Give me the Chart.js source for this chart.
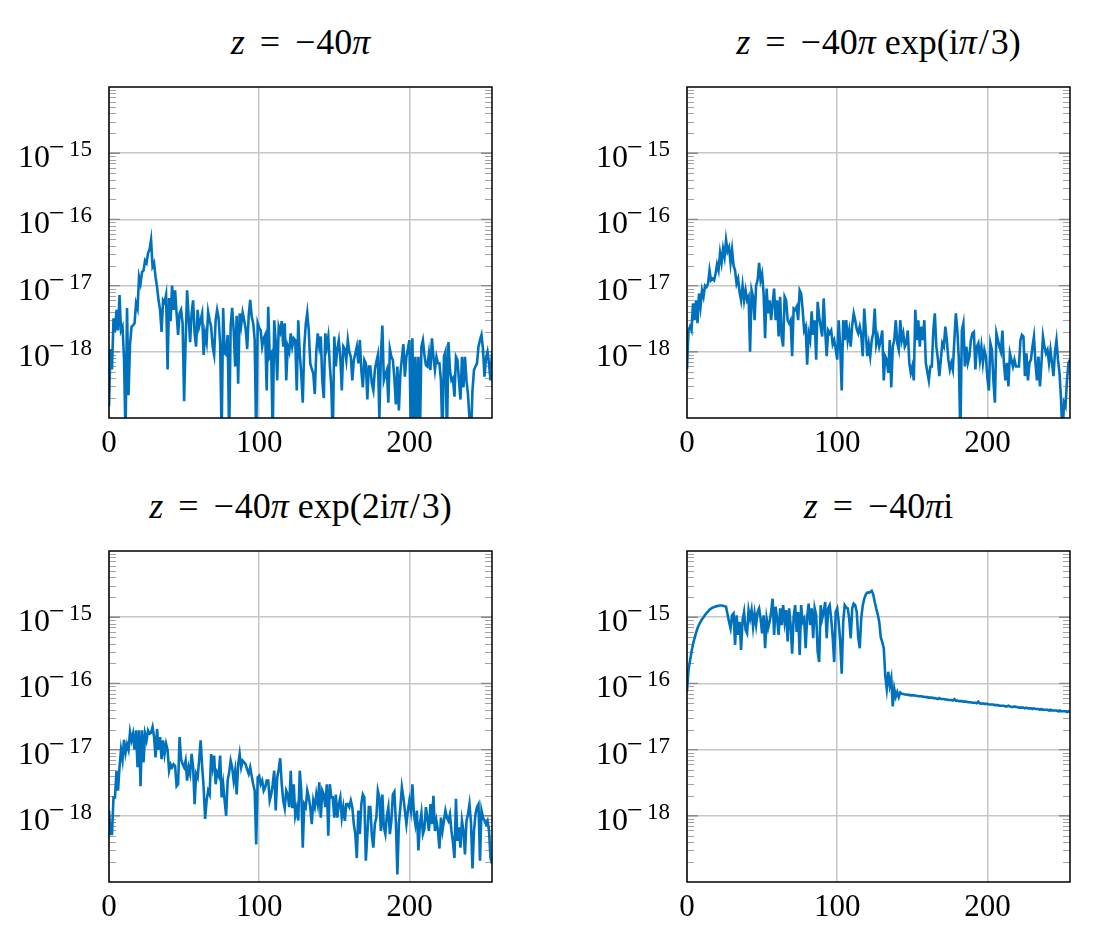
<!DOCTYPE html>
<html>
<head>
<meta charset="utf-8">
<script src="https://cdn.jsdelivr.net/npm/chart.js@4"></script>
<style>
  html, body { margin: 0; padding: 0; background: #fff; overflow: hidden; }
  body { width: 1093px; height: 936px; position: relative; }
  canvas { position: absolute; }
  .ttl { position: absolute; width: 383px; text-align: center; font-family: "Liberation Serif", serif; font-size: 36px; line-height: 36px; color: #000; white-space: nowrap; }
  .ttl i { font-style: italic; }
  .ttl .rel { padding: 0 15px; }
  .ttl .un { padding: 0 1px 0 0; }
  .ttl .sl { padding: 0 2px; }
</style>
</head>
<body>
<script>
// ---- data ----
const xTicks = [0, 100, 200];
const yDecades = [1e-18, 1e-17, 1e-16, 1e-15];
const yExponents = ['−18', '−17', '−16', '−15'];
const minorMultipliers = [2, 3, 4, 5, 6, 7, 8, 9];

const titleA = '<i>z</i><span class="rel">=</span><span class="un">−</span>40<i>π</i>';
const titleB = '<i>z</i><span class="rel">=</span><span class="un">−</span>40<i>π</i> exp(i<i>π</i><span class="sl">/</span>3)';
const titleC = '<i>z</i><span class="rel">=</span><span class="un">−</span>40<i>π</i> exp(2i<i>π</i><span class="sl">/</span>3)';
const titleD = '<i>z</i><span class="rel">=</span><span class="un">−</span>40<i>π</i>i';

const seriesA = [
1.5e-19,1.1e-18,5.4e-19,3.2e-18,2.0e-18,4.3e-18,2.1e-18,7.2e-18,2.1e-18,2.4e-18,8e-19,5e-20,4.6e-18,2.2e-19,1.3e-18,2.4e-18,
2.5e-18,2.7e-18,5.4e-18,4.5e-18,1.35e-17,1.07e-17,1.6e-17,1.7e-17,2.4e-17,2.2e-17,3.1e-17,3.5e-17,4.9e-17,1.95e-17,2.2e-17,1.35e-17,
9.5e-18,6e-18,4.3e-18,2.0e-18,6e-18,5.5e-18,7.2e-18,5.4e-19,6.5e-18,2.9e-18,1.0e-17,4.3e-18,8.5e-18,3.8e-18,1.8e-18,3.8e-18,
4.3e-18,2.7e-18,1.8e-19,1.4e-18,8.5e-18,3.4e-18,1.4e-18,3.8e-18,6e-18,1.9e-18,1.2e-18,4.3e-18,2.4e-18,3.0e-18,3.8e-18,9e-19,
1.9e-18,1.4e-18,4.0e-18,3.0e-18,2.4e-18,1.2e-18,9e-19,3.0e-18,4.3e-18,3.2e-18,1.3e-18,5e-20,4.6e-18,9.5e-19,9e-19,1.8e-18,
5e-20,2.5e-18,4.6e-18,2.1e-18,6e-19,3.5e-18,3.3e-19,3.8e-18,2.5e-18,3.9e-18,3e-18,2.2e-18,1.1e-18,3.5e-18,6.1e-18,3.4e-18,
2.7e-18,1.5e-18,5e-20,2.7e-18,2.3e-18,2.1e-18,1.2e-18,1.6e-18,1.8e-18,2.6e-19,4.8e-18,8.4e-19,9.4e-19,5e-20,3e-18,1.4e-18,
3.7e-19,2.4e-18,2.0e-18,2.9e-18,1.2e-18,2.7e-18,3.7e-19,1.2e-18,1.0e-18,1.9e-18,1.2e-18,1.6e-18,1.5e-18,2.6e-19,3e-18,9.4e-19,
4.7e-19,1.7e-19,1.2e-18,2.6e-18,3.9e-18,2.1e-18,6.7e-19,5.5e-19,4.7e-19,2.3e-19,1.0e-18,1.9e-18,1.2e-18,1.7e-18,3.7e-19,2e-19,
1.9e-18,1.2e-18,1.7e-18,6.3e-19,3e-19,5e-20,1.7e-18,6e-19,1.1e-18,1.5e-18,8.4e-19,2.6e-19,1.2e-18,1.1e-18,7.5e-19,1.5e-18,
1.0e-18,8.4e-19,3.7e-19,7.5e-19,9.4e-19,1.2e-18,6.7e-19,1.5e-18,5.3e-19,2.9e-19,7.5e-19,6.7e-19,1.9e-19,6e-19,6e-19,3.3e-19,
2.6e-19,5.3e-19,7e-19,8.9e-19,1e-19,8.4e-19,2.5e-18,3.7e-19,4.5e-19,5.3e-19,1.7e-19,1.1e-18,8.4e-19,7.5e-19,4e-19,1.6e-19,
6e-19,1.3e-19,4.7e-19,8e-19,1.3e-18,4.2e-19,8.4e-19,1.1e-18,1.5e-18,5e-20,1.6e-18,5e-20,8.4e-19,1e-19,8.4e-19,5e-20,
1.2e-18,1.5e-18,9e-19,6.3e-19,6e-19,9.4e-19,5.3e-19,1.6e-18,8.4e-19,5.3e-19,8.4e-19,6.7e-19,6.7e-19,3.7e-19,5e-20,8.4e-19,
1e-18,5e-20,1.4e-18,5.3e-19,3.7e-19,4e-19,2.1e-19,8.4e-19,7.5e-19,3.7e-19,1.9e-19,8.4e-19,2.9e-19,8.4e-19,3.7e-19,2.3e-19,
1e-19,5e-20,2.6e-19,5.3e-19,6e-19,6.7e-19,1.2e-18,1.5e-18,1.8e-18,1.1e-18,4.2e-19,8e-19,1.0e-18,6.7e-19,3.7e-19,9.4e-19
];

const seriesB = [
5.4e-19,2.1e-18,2.4e-18,2.1e-18,5.4e-18,3e-18,6e-18,2.7e-18,7.6e-18,4.8e-18,8.5e-18,6.8e-18,1.0e-17,9.5e-18,1.07e-17,1.7e-17,
1.2e-17,1.27e-17,1.2e-17,1.5e-17,2.1e-17,1.7e-17,3.1e-17,2.2e-17,3.6e-17,2.7e-17,4.9e-17,3.3e-17,3.8e-17,2.2e-17,3.5e-17,2.0e-17,
1.7e-17,1.07e-17,1.27e-17,8e-18,6e-18,1.0e-17,6e-18,8.5e-18,6e-18,6.8e-18,1.0e-18,8.5e-18,6.8e-18,3e-18,1.0e-17,1.2e-17,
2.2e-17,1.2e-17,1.5e-17,7.6e-18,1.6e-18,9e-18,3.8e-18,6e-18,3e-18,5.4e-18,9e-18,3e-18,6e-18,1.7e-18,6.8e-18,1.7e-18,
1.2e-18,6.8e-18,6e-18,3e-18,2.7e-18,3e-18,8.6e-19,4.5e-18,4.3e-18,4.8e-18,3e-18,8.5e-18,7.6e-18,4.3e-18,2.1e-18,2.4e-18,
6.4e-19,1.9e-18,1.5e-18,4.1e-18,1.8e-18,3e-18,7.6e-19,5.7e-18,3.4e-18,2.4e-18,1.7e-18,6.4e-18,2.1e-18,8.6e-19,2.1e-18,1.9e-18,
2.1e-18,1.3e-18,1.5e-18,1.1e-18,7.6e-19,3e-18,1.2e-18,2.6e-19,3e-18,1.5e-18,3e-18,1.5e-18,2.1e-18,1.2e-18,2.5e-18,3.8e-18,
3e-18,2.2e-18,1.9e-18,2.4e-18,1.8e-18,8.6e-19,4.5e-18,2.1e-18,8.6e-19,1.3e-18,8.6e-19,1.5e-18,1.9e-18,4.5e-18,1.3e-18,1.7e-18,
1.2e-18,1.5e-18,2.1e-18,3.7e-19,8.5e-19,7.6e-19,4.8e-19,1.5e-18,2.9e-19,1.2e-18,1.5e-18,3e-18,1.35e-18,1.07e-18,3e-18,1.5e-18,
1.9e-18,1.2e-18,1.35e-18,2.1e-18,6.8e-19,4.8e-19,6e-19,3.7e-19,4.3e-18,1.5e-18,3e-18,1.2e-18,2.4e-18,1.5e-18,3e-18,6.8e-19,
5e-19,3.7e-19,6e-19,6e-19,2.1e-18,3.8e-18,1.2e-18,8e-19,4.3e-19,7.6e-19,1.35e-18,1.2e-18,2.4e-18,1.5e-18,7.6e-19,5.4e-19,
6.8e-19,5.4e-19,1.5e-18,3.8e-18,2.1e-18,7.6e-19,5e-20,2.1e-18,2.7e-18,6e-19,1.2e-18,6.8e-19,8.5e-19,1.5e-18,1.9e-18,2.0e-18,
5.4e-19,1.2e-18,1.35e-18,7.6e-19,1.2e-18,6.8e-19,1.07e-18,8.5e-19,4e-19,2.6e-19,1.35e-18,1.07e-18,3.7e-19,1.7e-19,1.9e-18,1.5e-18,
1.2e-18,1.0e-18,2.1e-18,6.8e-19,3.7e-19,6.8e-19,3.0e-19,9.5e-19,7.6e-19,6e-19,7.6e-19,6e-19,6e-19,6e-19,1.5e-18,1.8e-18,
1.7e-18,4.3e-19,9.5e-19,3.7e-19,6.8e-19,7.6e-19,1.2e-18,1.7e-18,6.8e-19,3.7e-19,8.5e-19,3.0e-19,6.8e-19,1.7e-18,1.2e-18,9.5e-19,
1.07e-18,6.8e-19,1.07e-18,6.8e-19,4.3e-19,1.0e-18,1.5e-18,7.6e-19,4.8e-19,2e-19,5e-20,1.7e-19,1.5e-19,3.7e-19,6.8e-19,7.6e-19
];

const seriesC = [
1.2e-18,5.3e-19,5.3e-19,1.9e-18,1.9e-18,4.8e-18,2.4e-18,5.4e-18,1.0e-17,7e-18,1.4e-17,8.9e-18,1.2e-17,9.9e-18,1.85e-17,1.38e-17,
1.74e-17,1.0e-17,1.95e-17,5.4e-18,1.95e-17,2.8e-18,1.95e-17,6.4e-18,1.74e-17,1.38e-17,1.95e-17,1.74e-17,1.8e-17,2.2e-17,1.55e-17,7.6e-18,
2.05e-17,9.9e-18,1.55e-17,7.2e-18,1.38e-17,8.6e-18,1.23e-17,9.9e-18,4.8e-18,6.0e-18,5.4e-18,6e-18,5.7e-18,2.8e-18,3.0e-18,1.55e-17,
7.2e-18,6.0e-18,5.4e-18,6.8e-18,3.4e-18,5.4e-18,4.3e-18,8.6e-18,5.4e-18,1.5e-18,4.3e-18,3.8e-18,6.8e-18,1.38e-17,5.7e-18,2.7e-18,
9e-19,1.7e-18,2.4e-18,2.1e-18,8.6e-18,5.4e-18,8.1e-18,3.0e-18,4.5e-18,4.0e-18,8.1e-18,1.9e-18,3.0e-18,1.7e-18,1.0e-18,3.4e-18,
4.5e-18,6.8e-18,5.4e-18,3.4e-18,4.8e-18,2.1e-18,6.0e-18,8.6e-18,5.4e-18,6.8e-18,6.4e-18,6.0e-18,5e-18,4.3e-18,5.4e-18,4.0e-18,
3.0e-18,2.4e-18,3.7e-19,3.8e-18,4.0e-18,3.0e-18,3.4e-18,2.4e-18,2.7e-18,3.4e-18,3.4e-18,1.7e-18,2.1e-18,3.0e-18,4.8e-18,1.2e-18,
3.8e-18,5e-18,7.4e-18,3.0e-18,1.7e-18,1.3e-18,2.4e-18,2.1e-18,1.35e-18,4.8e-18,1.3e-18,3.0e-18,1.0e-18,1.3e-18,8.5e-19,4.8e-18,
2.4e-18,3.3e-19,1.5e-18,1.35e-18,2.4e-18,1.9e-18,1.35e-18,7.5e-19,1.7e-18,1.35e-18,2.1e-18,1.5e-18,3.2e-18,9.4e-19,2.4e-18,2.1e-18,
1.35e-18,3.0e-18,5.0e-19,3.0e-18,1.9e-18,1.9e-18,9.4e-19,2.1e-18,9.4e-19,1.5e-18,1.9e-18,9.4e-19,1.35e-18,8.4e-19,1.5e-18,1.5e-18,
1.35e-18,1.7e-18,1.35e-18,7.5e-19,5.3e-19,2.3e-19,1.2e-18,5.3e-19,1.5e-18,2.1e-18,1.9e-18,2.1e-19,5.3e-19,1.35e-18,1.35e-18,5e-19,
3.3e-19,7.5e-19,9.4e-19,2.4e-18,1.9e-18,5.9e-19,2.1e-18,6.7e-19,5.3e-19,1.0e-18,1.35e-18,5.3e-19,8.4e-19,2.1e-18,2.3e-18,8e-19,
1.3e-19,7.5e-19,1.35e-18,2.7e-18,1.9e-18,1.2e-18,7.5e-19,1.2e-18,1.7e-18,1.2e-18,3.0e-18,1.05e-18,7.5e-19,1.2e-18,3.0e-19,7.5e-19,
1.1e-18,5.3e-19,6.3e-19,1.35e-18,9e-19,5.9e-19,1.5e-18,7.5e-19,2.0e-18,5.9e-19,8.4e-19,6e-19,3.2e-19,9.4e-19,5.9e-19,8.4e-19,
1.2e-18,9.4e-19,8.4e-19,1.05e-18,5.9e-19,4e-19,2.3e-19,1.8e-18,4.2e-19,6.7e-19,3.3e-19,8.4e-19,5.9e-19,2.6e-19,8.4e-19,1.05e-18,
1.5e-18,8e-19,1.6e-19,5.9e-19,1.05e-18,1.35e-18,1.5e-18,2.1e-19,1.2e-18,9.4e-19,8.4e-19,7.5e-19,8.4e-19,6e-19,2.3e-19,1.9e-19
];

const seriesD = [
7.5e-17,1.6e-16,2.2e-16,3.0e-16,3.9e-16,4.8e-16,5.8e-16,6.8e-16,7.7e-16,8.5e-16,9.3e-16,1.0e-15,1.08e-15,1.15e-15,1.22e-15,1.3e-15,
1.35e-15,1.39e-15,1.42e-15,1.45e-15,1.47e-15,1.49e-15,1.5e-15,1.5e-15,1.49e-15,1.47e-15,1.44e-15,1.1e-15,8.5e-16,6.8e-16,1.07e-15,1.14e-15,
3.8e-16,1.07e-15,5.4e-16,8.5e-16,3.2e-16,9e-16,1.2e-15,6.4e-16,5.7e-16,1.28e-15,9.5e-16,1.28e-15,7.2e-16,1.14e-15,7.6e-16,1.2e-15,
1.36e-15,9.5e-16,5.7e-16,1.07e-15,3.4e-16,9.5e-16,6.8e-16,8.5e-16,1.2e-15,1.9e-15,5.4e-16,1.44e-15,9.5e-16,5.4e-16,1.36e-15,7.6e-16,
1.52e-15,8.5e-16,1.28e-15,4.3e-16,1.36e-15,7.6e-16,2.8e-16,1.0e-15,1.52e-15,6.0e-16,1.2e-15,2.7e-16,1.52e-15,8.5e-16,9.5e-16,3.4e-16,
1.0e-15,1.6e-15,7.6e-16,1.36e-15,4.8e-16,1.36e-15,1.07e-15,3.0e-16,2.1e-16,1.52e-15,9.5e-16,1.2e-15,1.7e-15,4.8e-16,1.36e-15,1.52e-15,
9.5e-16,5e-16,2.1e-16,1.2e-15,1.36e-15,8.5e-16,4.3e-16,1.4e-16,8.5e-16,1.52e-15,1.4e-15,1.36e-15,9.5e-16,4.8e-16,1.36e-15,1.6e-15,
1.52e-15,1.2e-15,5e-16,3.4e-16,9.6e-16,1.5e-15,1.9e-15,2.2e-15,2.35e-15,2.35e-15,2.4e-15,2.5e-15,2.2e-15,1.7e-15,1.35e-15,1.1e-15,
8.5e-16,5e-16,4.2e-16,3.4e-16,1.3e-16,8.3e-17,1.5e-16,9.3e-17,1.2e-16,4.5e-17,8.3e-17,6.3e-17,7.4e-17,6.2e-17,7.3e-17,7.0e-17,
6.9e-17,6.8e-17,6.8e-17,6.7e-17,6.7e-17,6.6e-17,6.6e-17,6.6e-17,6.5e-17,6.5e-17,6.4e-17,6.4e-17,6.4e-17,6.3e-17,6.3e-17,6.2e-17,
6.2e-17,6.1e-17,6.1e-17,6.1e-17,6.0e-17,6.0e-17,5.9e-17,5.8e-17,6.0e-17,5.8e-17,5.8e-17,5.8e-17,5.7e-17,5.7e-17,5.6e-17,5.6e-17,
5.6e-17,5.5e-17,5.8e-17,5.5e-17,5.5e-17,5.4e-17,5.4e-17,5.4e-17,5.3e-17,5.3e-17,5.3e-17,5.2e-17,5.2e-17,5.2e-17,5.1e-17,5.1e-17,
5.1e-17,5.0e-17,5.3e-17,5.0e-17,4.9e-17,5.0e-17,4.9e-17,4.9e-17,4.9e-17,4.8e-17,4.8e-17,4.8e-17,4.8e-17,4.7e-17,4.7e-17,4.7e-17,
4.6e-17,4.6e-17,4.6e-17,4.6e-17,4.5e-17,4.5e-17,4.6e-17,4.5e-17,4.4e-17,4.4e-17,4.5e-17,4.4e-17,4.4e-17,4.3e-17,4.3e-17,4.3e-17,
4.3e-17,4.2e-17,4.3e-17,4.2e-17,4.2e-17,4.2e-17,4.1e-17,4.2e-17,4.1e-17,4.1e-17,4.1e-17,4.0e-17,4.1e-17,4.0e-17,4.0e-17,4.0e-17,
4.0e-17,3.9e-17,4.0e-17,3.9e-17,3.9e-17,3.9e-17,3.9e-17,3.8e-17,3.9e-17,3.8e-17,3.8e-17,3.8e-17,3.8e-17,3.7e-17,3.8e-17,3.7e-17
];

// ---- layout / drawing ----
const SERIF = '"Liberation Serif", "Times New Roman", serif';
const LINE_BLUE = '#0072BD';
const GRID = '#c6c6c6';

const panels = [
  { series: seriesA, title: titleA, left: 0,   top: 0 },
  { series: seriesB, title: titleB, left: 578, top: 0 },
  { series: seriesC, title: titleC, left: 0,   top: 464 },
  { series: seriesD, title: titleD, left: 578, top: 464 }
];

const axisDecor = {
  id: 'axisDecor',
  beforeDatasetsDraw(chart) {
    const { ctx, chartArea: a } = chart;
    const y = chart.scales.y;
    ctx.save();
    ctx.lineWidth = 1;
    ctx.strokeStyle = '#a3a3a3';
    for (let k = -19; k < -14; k++) {
      minorMultipliers.forEach(m => {
        const py = Math.round(y.getPixelForValue(m * Math.pow(10, k))) + 0.5;
        if (py < a.top || py > a.bottom) return;
        ctx.beginPath();
        ctx.moveTo(a.left, py); ctx.lineTo(a.left + 7, py);
        ctx.moveTo(a.right - 7, py); ctx.lineTo(a.right, py);
        ctx.stroke();
      });
    }
    ctx.strokeStyle = '#8a8a8a';
    ctx.lineWidth = 1.4;
    yDecades.forEach(v => {
      const py = y.getPixelForValue(v);
      ctx.beginPath();
      ctx.moveTo(a.left, py); ctx.lineTo(a.left + 11, py);
      ctx.moveTo(a.right - 11, py); ctx.lineTo(a.right, py);
      ctx.stroke();
    });
    ctx.restore();
  },
  afterDraw(chart) {
    const { ctx, chartArea: a } = chart;
    const y = chart.scales.y;
    ctx.save();
    ctx.strokeStyle = '#000';
    ctx.lineWidth = 1.5;
    ctx.strokeRect(a.left, a.top, a.right - a.left, a.bottom - a.top);
    ctx.fillStyle = '#000';
    ctx.textBaseline = 'alphabetic';
    yDecades.forEach((v, j) => {
      const py = y.getPixelForValue(v);
      const ex = yExponents[j];
      ctx.textAlign = 'left';
      ctx.font = '32px ' + SERIF;
      ctx.fillText('10', a.left - 91, py + 14);
      ctx.font = '28px ' + SERIF;
      ctx.fillText(ex.charAt(0), a.left - 60, py + 3);
      ctx.textAlign = 'right';
      ctx.font = '23px ' + SERIF;
      ctx.fillText(ex.slice(1), a.left - 17, py + 3);
    });
    ctx.restore();
  }
};

panels.forEach(p => {
  const t = document.createElement('div');
  t.className = 'ttl';
  t.style.left = (p.left + 109) + 'px';
  t.style.top = (p.top + 24) + 'px';
  t.innerHTML = p.title;
  document.body.appendChild(t);

  const c = document.createElement('canvas');
  c.width = 515; c.height = 464;
  c.style.left = p.left + 'px';
  c.style.top = p.top + 'px';
  c.style.width = '515px'; c.style.height = '464px';
  document.body.appendChild(c);

  const pts = p.series.map((v, i) => ({ x: i, y: v }));

  new Chart(c, {
    type: 'line',
    data: { datasets: [{ data: pts, borderColor: LINE_BLUE, borderWidth: 2.6, pointRadius: 0, fill: false, tension: 0, clip: 0 }] },
    options: {
      responsive: false,
      animation: false,
      devicePixelRatio: 1,
      layout: { padding: { left: 0, right: 23, top: 87, bottom: 0 } },
      plugins: { legend: { display: false }, tooltip: { enabled: false }, title: { display: false } },
      scales: {
        x: {
          type: 'linear', min: 0, max: 255,
          afterBuildTicks: s => { s.ticks = xTicks.map(v => ({ value: v })); },
          afterFit: s => { s.height = 46; },
          grid: { color: GRID, lineWidth: 1.5, drawTicks: false },
          border: { display: false },
          ticks: { padding: 7, color: '#000', maxRotation: 0, autoSkip: false, font: { family: SERIF, size: 31 }, callback: v => String(v) }
        },
        y: {
          type: 'logarithmic', min: 1e-19, max: 1e-14,
          afterBuildTicks: s => { s.ticks = yDecades.map(v => ({ value: v })); },
          afterFit: s => { s.width = 109; },
          grid: { color: GRID, lineWidth: 1.5, drawTicks: false },
          border: { display: false },
          ticks: { display: false }
        }
      }
    },
    plugins: [axisDecor]
  });
});
</script>
</body>
</html>
